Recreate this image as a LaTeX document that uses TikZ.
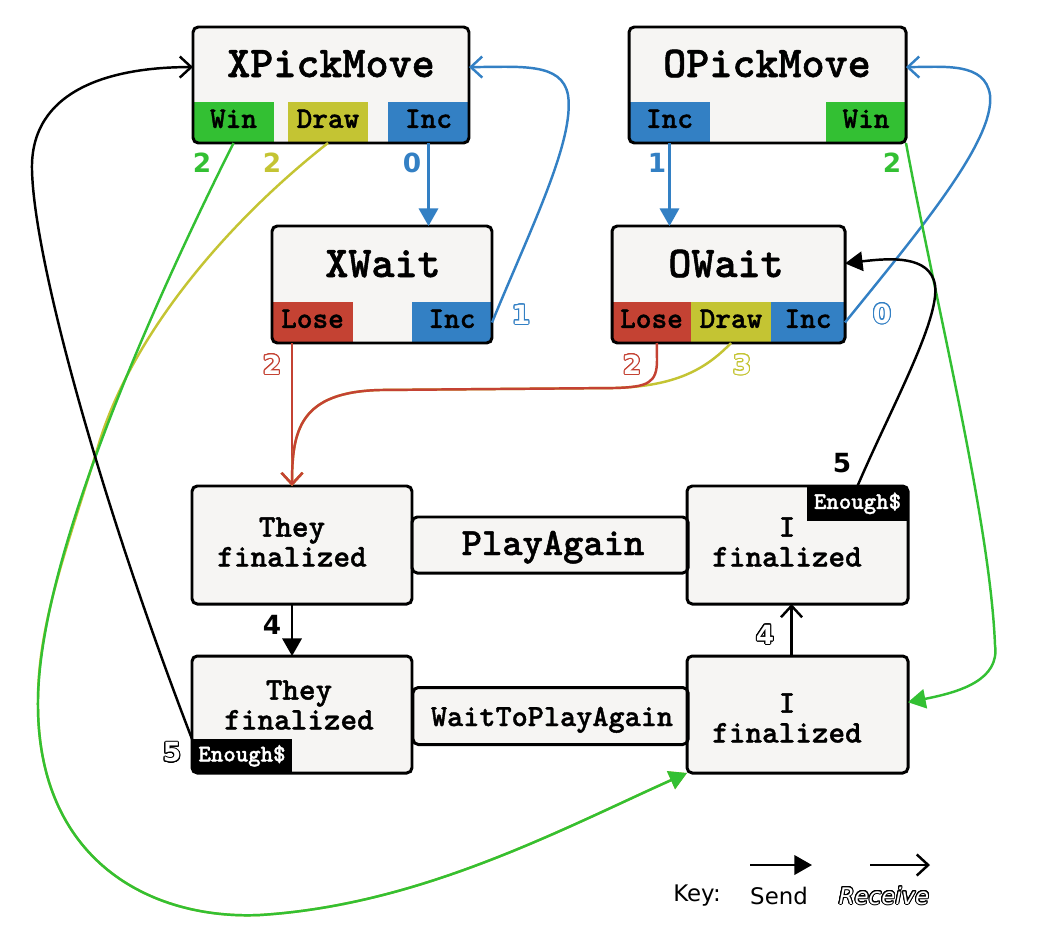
\documentclass[tikz,border=0pt]{standalone}
\usepackage{fontspec}
\usepackage{contour}
\usetikzlibrary{arrows.meta}
\newfontfamily\cour{lmmonolt10-bold.otf}[FakeBold=1.2]
\newfontfamily\dejavu{DejaVu Sans}
\definecolor{boxbg}{RGB}{246,245,243}
\definecolor{cgreen}{RGB}{51,192,51}
\definecolor{cyellow}{RGB}{196,196,51}
\definecolor{cblue}{RGB}{51,128,196}
\definecolor{cred}{RGB}{196,66,51}
\contourlength{0.55pt}
\contournumber{24}
\def\pxu{0.02cm}
\begin{document}
\begin{tikzpicture}[x=0.02cm, y=-0.02cm,
  boxfill/.style={rectangle, fill=boxbg, rounded corners=3pt, inner sep=0pt, outer sep=0pt},
  boxline/.style={draw=black, line width=1.7pt, rounded corners=3pt},
  tagbox/.style={rectangle, inner sep=0pt, outer sep=0pt, text height=0.61em, text depth=0pt, font=\cour\fontsize{17}{17}\selectfont},
  enough/.style={tagbox, fill=black, text=white, font=\cour\fontsize{13.5}{13.5}\selectfont},
  titletext/.style={inner sep=0pt, anchor=base, font=\cour\fontsize{25}{25}\selectfont},
  bodytext/.style={inner sep=0pt, align=center, font=\cour\fontsize{18}{17}\selectfont},
  send/.style={line width=1.4pt, -{Triangle[length=10pt,width=11pt]}},
  recv/.style={line width=1.4pt, -{Straight Barb[length=6.5pt,width=12pt]}},
  num/.style={inner sep=0pt, font=\dejavu\bfseries\fontsize{15}{15}\selectfont},
  keytext/.style={inner sep=0pt, font=\dejavu\fontsize{13}{13}\selectfont}]
\useasboundingbox (0,0) rectangle (1038,943);

% ---------- boxes ----------
\node[boxfill, minimum width=276*\pxu, minimum height=116*\pxu] (xpm) at (331,85) {};
\node[boxfill, minimum width=277*\pxu, minimum height=116*\pxu] (opm) at (767.5,85) {};
\node[boxfill, minimum width=220*\pxu, minimum height=117*\pxu] (xw) at (382,284.5) {};
\node[boxfill, minimum width=233*\pxu, minimum height=117*\pxu] (ow) at (728.5,284.5) {};
\node[boxfill, minimum width=220*\pxu, minimum height=118*\pxu] (tf1) at (302,545) {};
\node[boxfill, minimum width=221*\pxu, minimum height=118*\pxu] (if1) at (797.5,545) {};
\node[boxfill, minimum width=220*\pxu, minimum height=117*\pxu] (tf2) at (302,714.5) {};
\node[boxfill, minimum width=221*\pxu, minimum height=117*\pxu] (if2) at (797.5,714.5) {};
\node[boxfill, minimum width=276*\pxu, minimum height=56*\pxu] (pa) at (550,545) {};
\node[boxfill, minimum width=275*\pxu, minimum height=57*\pxu] (wpa) at (550.5,716) {};

% ---------- tags ----------
\begin{scope}
\clip[rounded corners=3pt] (xpm.south west) rectangle (xpm.north east);
\node[tagbox, fill=cgreen, anchor=south west, minimum width=81*\pxu, minimum height=41*\pxu] (xpmwin) at (193,143) {Win};
\node[tagbox, fill=cyellow, anchor=south west, minimum width=80*\pxu, minimum height=41*\pxu] (xpmdraw) at (288,143) {Draw};
\node[tagbox, fill=cblue, anchor=south west, minimum width=81*\pxu, minimum height=41*\pxu] (xpminc) at (388,143) {Inc};
\end{scope}
\begin{scope}
\clip[rounded corners=3pt] (opm.south west) rectangle (opm.north east);
\node[tagbox, fill=cblue, anchor=south west, minimum width=81*\pxu, minimum height=41*\pxu] (opminc) at (629,143) {Inc};
\node[tagbox, fill=cgreen, anchor=south west, minimum width=80*\pxu, minimum height=41*\pxu] (opmwin) at (826,143) {Win};
\end{scope}
\begin{scope}
\clip[rounded corners=3pt] (xw.south west) rectangle (xw.north east);
\node[tagbox, fill=cred, anchor=south west, minimum width=81*\pxu, minimum height=41*\pxu] (xwlose) at (272,343) {Lose};
\node[tagbox, fill=cblue, anchor=south west, minimum width=80*\pxu, minimum height=41*\pxu] (xwinc) at (412,343) {Inc};
\end{scope}
\begin{scope}
\clip[rounded corners=3pt] (ow.south west) rectangle (ow.north east);
\node[tagbox, fill=cred, anchor=south west, minimum width=79*\pxu, minimum height=41*\pxu] (owlose) at (612,343) {Lose};
\node[tagbox, fill=cyellow, anchor=south west, minimum width=80*\pxu, minimum height=41*\pxu] (owdraw) at (691,343) {Draw};
\node[tagbox, fill=cblue, anchor=south west, minimum width=74*\pxu, minimum height=41*\pxu] (owinc) at (771,343) {Inc};
\end{scope}
\begin{scope}
\clip[rounded corners=3pt] (if1.south west) rectangle (if1.north east);
\node[enough, anchor=north east, minimum width=101*\pxu, minimum height=35*\pxu] (if1tag) at (if1.north east) {Enough\$};
\end{scope}
\begin{scope}
\clip[rounded corners=3pt] (tf2.south west) rectangle (tf2.north east);
\node[enough, anchor=south west, minimum width=100*\pxu, minimum height=34*\pxu] (tf2tag) at (tf2.south west) {Enough\$};
\end{scope}

% ---------- borders ----------
\foreach \b in {xpm,opm,xw,ow,tf1,if1,tf2,if2,pa,wpa}
  \draw[boxline] (\b.south west) rectangle (\b.north east);

% ---------- texts ----------
\node[titletext] (xpmt) at (331,77) {XPickMove};
\node[titletext] (opmt) at (767,77) {OPickMove};
\node[titletext] (xwt) at (383,277) {XWait};
\node[titletext] (owt) at (726,277) {OWait};
\node[bodytext] (tf1t) at (292,542) {They\\finalized};
\node[bodytext] (if1t) at (787,542) {I\\finalized};
\node[bodytext] (tf2t) at (299,705) {They\\finalized};
\node[bodytext] (if2t) at (787,718) {I\\finalized};
\node[titletext, font=\cour\fontsize{22}{22}\selectfont] (pat) at (553,555) {PlayAgain};
\node[titletext, font=\cour\fontsize{17.5}{17.5}\selectfont] (wpat) at (552,726) {WaitToPlayAgain};

% ---------- helper coordinates ----------
\coordinate (tfin) at ([xshift=-5.67pt]tf1.north);
\coordinate (ifx) at ([xshift=-3.4pt]if1.south);

% ---------- connectors ----------
\draw[send, cblue] (xpminc.south) -- (xpminc.south |- xw.north);
\draw[recv, cblue] (xwinc.east) .. controls (530,230) and (575,140) .. (568,95) .. controls (562,62) and (520,67) .. ([yshift=10.2pt]xpm.east);
\draw[send, cblue] (opminc.south) -- (opminc.south |- ow.north);
\draw[recv, cblue] (owinc.east) .. controls (920,230) and (995,140) .. (990,95) .. controls (985,62) and (945,67) .. ([yshift=10.2pt]opm.east);

\draw[send, cyellow] (xpmdraw.south) .. controls (230,220) and (135,330) .. (100,440) .. controls (70,540) and (38,620) .. (38,700) .. controls (36,860) and (150,920) .. (260,915) .. controls (420,905) and (560,830) .. (if2.south west);
\draw[send, cgreen] (xpmwin.south) .. controls (180,250) and (40,540) .. (38,700) .. controls (36,860) and (150,920) .. (260,915) .. controls (420,905) and (560,830) .. (if2.south west);

\draw[send, cgreen] (opmwin.south east) .. controls (935,300) and (990,520) .. (995,645) .. controls (1000,680) and (960,692) .. ([yshift=7pt]if2.east);

\draw[recv, cred] (tfin |- xwlose.south) -- (tfin);
\draw[recv, cyellow] (owdraw.south) .. controls (705,370) and (675,386) .. (615,388) -- (380,390) .. controls (300,392) and (292,430) .. (tfin);
\draw[recv, cred] ([xshift=3pt]owlose.south) -- (657,360) .. controls (657,383) and (648,387) .. (615,388) -- (380,390) .. controls (300,392) and (292,430) .. (tfin);

\draw[send] (tfin |- tf1.south) -- (tfin |- tf2.north);
\draw[recv] (ifx |- if2.north) -- (ifx);
\draw[send] (if1tag.north) .. controls (890,410) and (940,320) .. (935,285) .. controls (930,255) and (890,258) .. ([yshift=12pt]ow.east);
\draw[recv] (tf2tag.north west) .. controls (100,500) and (34,260) .. (32,170) .. controls (30,90) and (110,67) .. ([yshift=10.2pt]xpm.west);

% ---------- numbers ----------
\node[num, text=cgreen] (n1) at (202,163) {2};
\node[num, text=cyellow] (n2) at (272,163) {2};
\node[num, text=cblue] (n3) at (412,163) {0};
\node[num, text=white] (n4) at (521,315) {\contour{cblue}{1}};
\node[num, text=cblue] (n5) at (657,163) {1};
\node[num, text=cgreen] (n6) at (892,163) {2};
\node[num, text=white] (n7) at (882,314) {\contour{cblue}{0}};
\node[num, text=white] (n8) at (272,365) {\contour{cred}{2}};
\node[num, text=white] (n9) at (632,365) {\contour{cred}{2}};
\node[num, text=white] (n10) at (742,365) {\contour{cyellow}{3}};
\node[num, text=black] (n11) at (272,625) {4};
\node[num, text=white] (n12) at (172,753) {\contour{black}{5}};
\node[num, text=black] (n13) at (842,463) {5};
\node[num, text=white] (n14) at (765,635) {\contour{black}{4}};

% ---------- key ----------
\node[keytext] (keyl) at (697,896) {Key:};
\node[keytext] (keys) at (779,896) {Send};
\node[keytext, text=white, font=\dejavu\itshape\fontsize{13}{13}\selectfont] (keyr) at (884,896) {\contour{black}{Receive}};
\coordinate (ks1) at (750,865);
\coordinate (ks2) at (812,865);
\draw[send] (ks1) -- (ks2);
\coordinate (kr1) at (870,865);
\coordinate (kr2) at (930,865);
\draw[recv] (kr1) -- (kr2);
\end{tikzpicture}
\end{document}
